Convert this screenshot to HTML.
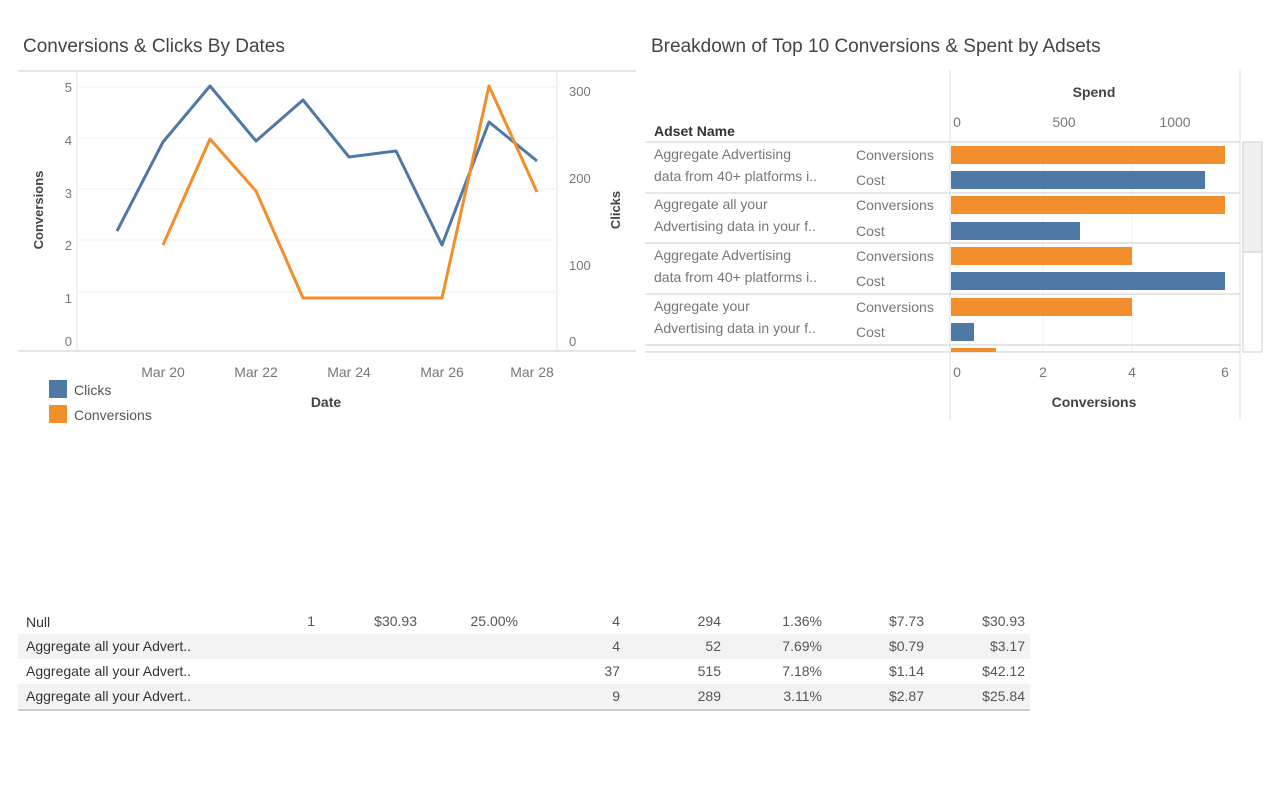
<!DOCTYPE html>
<html><head><meta charset="utf-8"><style>
body{margin:0;width:1280px;height:800px;background:#fff;font-family:"Liberation Sans",sans-serif;position:relative;overflow:hidden}
.t{position:absolute;white-space:nowrap}
</style></head><body>
<svg width="1280" height="800" style="position:absolute;left:0;top:0" font-family="Liberation Sans, sans-serif">
<text x="23" y="52" font-size="19" fill="#444">Conversions &amp; Clicks By Dates</text>
<text x="651" y="52" font-size="19" fill="#444">Breakdown of Top 10 Conversions &amp; Spent by Adsets</text>
<!-- left chart -->
<line x1="18" y1="71" x2="636" y2="71" stroke="#ddd" stroke-width="1.5"/>
<line x1="18" y1="351" x2="636" y2="351" stroke="#ddd" stroke-width="1.5"/>
<line x1="77" y1="71" x2="77" y2="351" stroke="#e2e2e2"/>
<line x1="557" y1="71" x2="557" y2="351" stroke="#e2e2e2"/>
<g stroke="#f2f2f2"><line x1="77" y1="87" x2="557" y2="87"/><line x1="77" y1="138" x2="557" y2="138"/><line x1="77" y1="189" x2="557" y2="189"/><line x1="77" y1="240" x2="557" y2="240"/><line x1="77" y1="292" x2="557" y2="292"/></g>
<g font-size="13" fill="#777" text-anchor="end"><text x="72" y="92">5</text><text x="72" y="145">4</text><text x="72" y="198">3</text><text x="72" y="250">2</text><text x="72" y="303">1</text><text x="72" y="346">0</text></g>
<g font-size="13" fill="#777"><text x="569" y="96">300</text><text x="569" y="183">200</text><text x="569" y="270">100</text><text x="569" y="346">0</text></g>
<text transform="translate(43,210) rotate(-90)" font-size="13" fill="#444" font-weight="bold" text-anchor="middle">Conversions</text>
<text transform="translate(620,210) rotate(-90)" font-size="13" fill="#444" font-weight="bold" text-anchor="middle">Clicks</text>
<g font-size="14" fill="#777" text-anchor="middle"><text x="163" y="377">Mar 20</text><text x="256" y="377">Mar 22</text><text x="349" y="377">Mar 24</text><text x="442" y="377">Mar 26</text><text x="532" y="377">Mar 28</text></g>
<text x="326" y="407" font-size="14" fill="#444" font-weight="bold" text-anchor="middle">Date</text>
<rect x="49" y="380" width="18" height="18" fill="#4e79a7"/><text x="74" y="395" font-size="14" fill="#555">Clicks</text>
<rect x="49" y="405" width="18" height="18" fill="#f28e2b"/><text x="74" y="420" font-size="14" fill="#555">Conversions</text>
<polyline fill="none" stroke="#4e79a7" stroke-width="3" stroke-linejoin="round" points="117,231 163,142 210,86 256,141 303,100 349,157 396,151 442,245 489,122 537,161"/>
<polyline fill="none" stroke="#f28e2b" stroke-width="3" stroke-linejoin="round" points="163,245 210,139 256,191 303,298 442,298 489,86 537,192"/>
<!-- right chart -->
<line x1="950" y1="70" x2="950" y2="420" stroke="#ddd"/>
<line x1="1240" y1="70" x2="1240" y2="420" stroke="#ddd"/>
<g stroke="#f0f0f0"><line x1="1043" y1="142" x2="1043" y2="352"/><line x1="1132" y1="142" x2="1132" y2="352"/></g>
<text x="1094" y="97" font-size="14" fill="#444" font-weight="bold" text-anchor="middle">Spend</text>
<g font-size="14" fill="#777" text-anchor="middle"><text x="957" y="127">0</text><text x="1064" y="127">500</text><text x="1175" y="127">1000</text></g>
<text x="654" y="136" font-size="14" fill="#333" font-weight="bold">Adset Name</text>
<g stroke="#ddd" stroke-width="1.5"><line x1="645" y1="142" x2="1240" y2="142"/><line x1="645" y1="193" x2="1240" y2="193"/><line x1="645" y1="243" x2="1240" y2="243"/><line x1="645" y1="294" x2="1240" y2="294"/><line x1="645" y1="345" x2="1240" y2="345"/><line x1="645" y1="352" x2="1240" y2="352"/></g>
<g fill="#f28e2b"><rect x="951" y="146" width="274" height="18"/><rect x="951" y="196" width="274" height="18"/><rect x="951" y="247" width="181" height="18"/><rect x="951" y="298" width="181" height="18"/><rect x="951" y="348" width="45" height="4"/></g>
<g fill="#4e79a7"><rect x="951" y="171" width="254" height="18"/><rect x="951" y="222" width="129" height="18"/><rect x="951" y="272" width="274" height="18"/><rect x="951" y="323" width="23" height="18"/></g>
<g font-size="14" fill="#777"><text x="654" y="159">Aggregate Advertising</text><text x="654" y="181">data from 40+ platforms i..</text><text x="654" y="209">Aggregate all your</text><text x="654" y="231">Advertising data in your f..</text><text x="654" y="260">Aggregate Advertising</text><text x="654" y="282">data from 40+ platforms i..</text><text x="654" y="311">Aggregate your</text><text x="654" y="333">Advertising data in your f..</text>
<text x="856" y="160">Conversions</text><text x="856" y="185">Cost</text><text x="856" y="210">Conversions</text><text x="856" y="236">Cost</text><text x="856" y="261">Conversions</text><text x="856" y="286">Cost</text><text x="856" y="312">Conversions</text><text x="856" y="337">Cost</text></g>
<rect x="1243" y="142" width="19" height="210" fill="#fff" stroke="#ccc"/><rect x="1243" y="142" width="19" height="110" fill="#f0f0f0" stroke="#ccc"/>
<g font-size="14" fill="#777" text-anchor="middle"><text x="957" y="377">0</text><text x="1043" y="377">2</text><text x="1132" y="377">4</text><text x="1225" y="377">6</text></g>
<text x="1094" y="407" font-size="14" fill="#444" font-weight="bold" text-anchor="middle">Conversions</text>
<!-- table -->
<rect x="18" y="634" width="1012" height="25" fill="#f3f3f3"/>
<rect x="18" y="684" width="1012" height="25" fill="#f3f3f3"/>
<line x1="18" y1="710" x2="1030" y2="710" stroke="#ccc" stroke-width="2"/>
<g font-size="14" fill="#333"><text x="26" y="627">Null</text><text x="26" y="651">Aggregate all your Advert..</text><text x="26" y="676">Aggregate all your Advert..</text><text x="26" y="701">Aggregate all your Advert..</text></g>
<g font-size="14" fill="#555" text-anchor="end"><text x="315" y="626">1</text><text x="417" y="626">$30.93</text><text x="518" y="626">25.00%</text>
<text x="620" y="626">4</text><text x="721" y="626">294</text><text x="822" y="626">1.36%</text><text x="924" y="626">$7.73</text><text x="1025" y="626">$30.93</text>
<text x="620" y="651">4</text><text x="721" y="651">52</text><text x="822" y="651">7.69%</text><text x="924" y="651">$0.79</text><text x="1025" y="651">$3.17</text>
<text x="620" y="676">37</text><text x="721" y="676">515</text><text x="822" y="676">7.18%</text><text x="924" y="676">$1.14</text><text x="1025" y="676">$42.12</text>
<text x="620" y="701">9</text><text x="721" y="701">289</text><text x="822" y="701">3.11%</text><text x="924" y="701">$2.87</text><text x="1025" y="701">$25.84</text></g>
</svg>
</body></html>
